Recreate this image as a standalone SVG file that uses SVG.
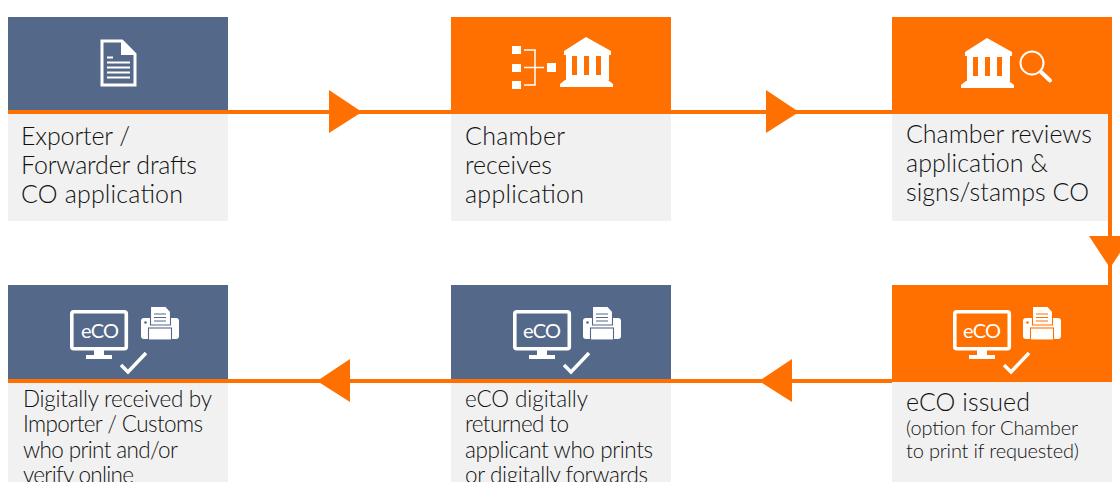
<svg xmlns="http://www.w3.org/2000/svg" xmlns:xlink="http://www.w3.org/1999/xlink" width="1120" height="482" viewBox="0 0 1120 482">
<style>
.navy{fill:#54698a}
.orange{fill:#ff7000}
.body{fill:#f1f1f1}
text{font-family:"Lato","Liberation Sans",sans-serif;font-weight:300;fill:#111}
.t{font-size:25px}
.b{font-size:22.500px}
.s{font-size:20px}
.ico{fill:#fff}
.lin{fill:none;stroke:#fff;stroke-width:2.500}
.cut{fill:none;stroke:currentColor;stroke-width:1.100}
.conn{fill:none;stroke:#ff7000;stroke-width:4}
.head{fill:#ff7000}
.eco{font-size:20px;font-weight:400;fill:#fff}
.onav{color:#54698a}
.oora{color:#ff7000}
</style>
<defs>
<g id="bank">
<path class="ico" fill-rule="evenodd" d="M26 0L51 14V18H49V43H48L53 47V50H0V47L5 43H6V18H4V14ZM12 19V38H17V19ZM24 19V38H29V19ZM36 19V38H41V19Z"/>
</g>
<g id="screen">
<rect class="lin" x="1.800" y="1.800" width="54.500" height="37" rx="2" style="stroke-width:3.600"/>
<path class="ico" d="M24 40H34V45H42V49H16V45H24Z"/>
<path class="lin" d="M51 55L58 62L76 43" style="stroke-width:3.500"/>
</g>
<g id="printer">
<rect class="ico" x="0" y="12" width="38" height="21" rx="3"/>
<path class="ico cut" style="fill:#fff" d="M9.500 19V0.500H24L29.500 6V19Z"/>
<path class="cut" d="M13 8H25M13 11.500H25M13 15H25"/>
<path class="ico" d="M24 0.500L29 6H24Z"/>
<circle cx="4.500" cy="16.500" r="1.300" fill="currentColor"/>
<rect class="ico cut" style="fill:#fff" x="7.500" y="22" width="23" height="12"/>
</g>
</defs>

<g id="node-drafts">
<rect class="navy" x="8" y="17" width="220" height="95"/>
<rect class="body" x="8" y="112" width="220" height="109"/>
<path class="lin" d="M102 41H122L135 54V85H102Z" style="stroke-width:3"/>
<path class="ico" d="M121 41L135 55H121Z"/>
<path class="lin" d="M107 57.500H113M107 62.500H130M107 67.500H130M107 72.500H130M107 77.500H130" style="stroke-width:1.800"/>
<text class="t" x="21" y="145" textLength="109">Exporter /</text>
<text class="t" x="21" y="174" textLength="176">Forwarder drafts</text>
<text class="t" x="21" y="203" textLength="162">CO application</text>
</g>

<g id="node-receives">
<rect class="orange" x="451" y="17" width="220" height="97"/>
<rect class="body" x="451" y="114" width="220" height="107"/>
<path class="ico" d="M512 46H521V54H512ZM512 64H521V72H512ZM512 81H521V89H512ZM547 63H556V72H547Z"/>
<path class="lin" d="M524 50H535V85H524M524 67.500H544" style="stroke-width:1.500"/>
<use xlink:href="#bank" href="#bank" x="560" y="37"/>
<text class="t" x="465" y="145" textLength="100">Chamber</text>
<text class="t" x="465" y="174" textLength="87">receives</text>
<text class="t" x="465" y="203" textLength="119">application</text>
</g>

<g id="node-reviews">
<rect class="orange" x="892" y="17" width="220" height="97"/>
<rect class="body" x="892" y="114" width="216" height="107"/>
<use xlink:href="#bank" href="#bank" x="961" y="38"/>
<circle class="lin" cx="1032" cy="63" r="11.500" style="stroke-width:2"/>
<path class="lin" d="M1041 72L1050 80.500" style="stroke-width:4;stroke-linecap:round"/>
<text class="t" x="906" y="143" textLength="186">Chamber reviews</text>
<text class="t" x="906" y="172" textLength="142">application &amp;</text>
<text class="t" x="906" y="201" textLength="183">signs/stamps CO</text>
</g>

<g id="node-issued">
<rect class="orange" x="892" y="285" width="220" height="97"/>
<rect class="body" x="892" y="382" width="220" height="100"/>
<use xlink:href="#screen" href="#screen" x="953" y="310"/>
<use class="oora" xlink:href="#printer" href="#printer" x="1023" y="306"/>
<text class="eco" x="963" y="338" textLength="38">eCO</text>
<text class="t" x="906" y="411" textLength="124">eCO issued</text>
<text class="s" x="906" y="435" textLength="172">(option for Chamber</text>
<text class="s" x="906" y="458" textLength="173">to print if requested)</text>
</g>

<g id="node-returned">
<rect class="navy" x="451" y="285" width="220" height="96"/>
<rect class="body" x="451" y="381" width="220" height="101"/>
<use xlink:href="#screen" href="#screen" x="513" y="310"/>
<use class="onav" xlink:href="#printer" href="#printer" x="583" y="306"/>
<text class="eco" x="523" y="338" textLength="38">eCO</text>
<text class="b" x="465" y="407" textLength="123">eCO digitally</text>
<text class="b" x="465" y="432" textLength="104">returned to</text>
<text class="b" x="465" y="458" textLength="188">applicant who prints</text>
<text class="b" x="465" y="483" textLength="183">or digitally forwards</text>
</g>

<g id="node-received">
<rect class="navy" x="8" y="285" width="220" height="96"/>
<rect class="body" x="8" y="381" width="220" height="101"/>
<use xlink:href="#screen" href="#screen" x="70" y="310"/>
<use class="onav" xlink:href="#printer" href="#printer" x="141" y="306"/>
<text class="eco" x="81" y="338" textLength="38">eCO</text>
<text class="b" x="23" y="407" textLength="189">Digitally received by</text>
<text class="b" x="23" y="432" textLength="180">Importer / Customs</text>
<text class="b" x="23" y="458" textLength="155">who print and/or</text>
<text class="b" x="23" y="483" textLength="111">verify online</text>
</g>

<g id="connectors">
<path class="conn" d="M8 112H892M1110 114V285M892 381H8"/>
<path class="head" d="M329 90L362 112L329 133ZM766 90L799 112L766 133ZM1089 236H1131L1110 268ZM792 359L759 381L792 402ZM350 359L317 381L350 402Z"/>
</g>
</svg>
